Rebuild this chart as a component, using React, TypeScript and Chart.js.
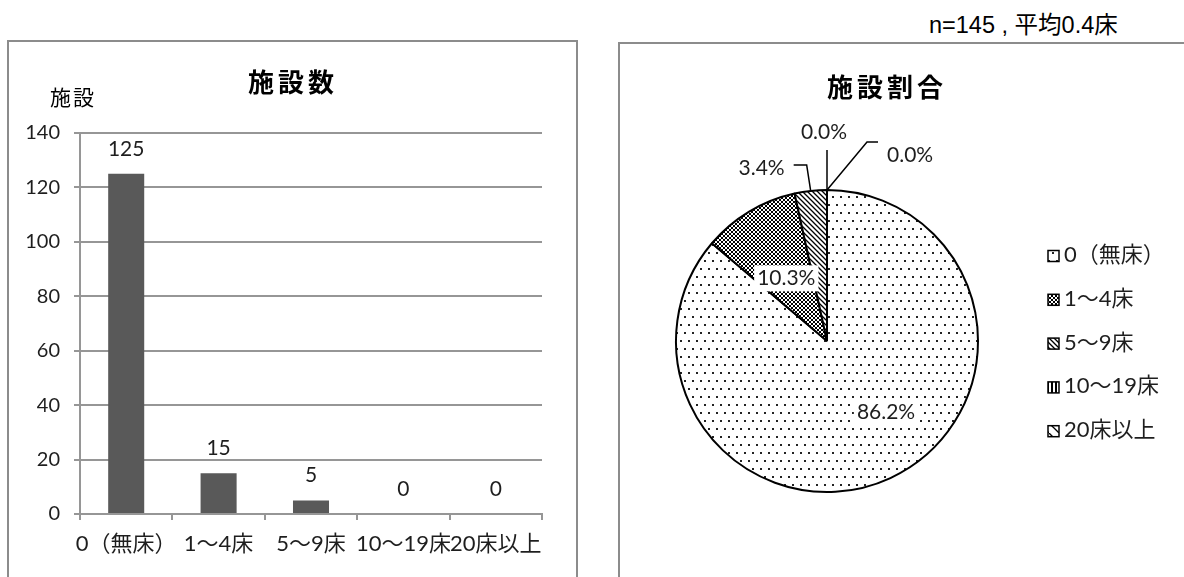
import React, { useEffect, useRef } from "react";
import { Chart, registerables } from "chart.js";

Chart.register(...registerables);

// ---------- data ----------
const categories: string[] = ["0（無床）", "1～4床", "5～9床", "10～19床", "20床以上"];
const facilityCounts: number[] = [125, 15, 5, 0, 0];
const yMin = 0;
const yMax = 140;
const yStep = 20;
const barTitle = "施設数";
const pieTitle = "施設割合";
const yAxisTitle = "施設";
const sampleNote = "n=145 , 平均0.4床";

const total = facilityCounts.reduce((a, b) => a + b, 0);
const shareLabels: string[] = facilityCounts.map((v) => ((v / total) * 100).toFixed(1) + "%");

// ---------- styles ----------
const LATIN = 'Lato, "Noto Sans CJK JP", sans-serif';
const CJK = '"Noto Sans CJK JP", sans-serif';
const GRID = "#969696";
const TEXT = "#1e1e1e";
const BAR = "#595959";

type PatternKind = "dots" | "checker" | "diag" | "vbars" | "diagWide";
const patternKinds: PatternKind[] = ["dots", "checker", "diag", "vbars", "diagWide"];

function makePattern(kind: PatternKind): CanvasPattern | string {
  const tile = document.createElement("canvas");
  const c = tile.getContext("2d");
  if (!c) return "#fff";
  const white = (w: number, h: number) => {
    tile.width = w;
    tile.height = h;
    c.fillStyle = "#fff";
    c.fillRect(0, 0, w, h);
  };
  switch (kind) {
    case "dots":
      white(8, 16);
      c.fillStyle = "#222";
      c.fillRect(1, 1, 2, 2);
      c.fillRect(5, 9, 2, 2);
      break;
    case "checker":
      white(4, 4);
      c.fillStyle = "#000";
      c.fillRect(0, 0, 2, 2);
      c.fillRect(2, 2, 2, 2);
      break;
    case "diag":
      white(5, 5);
      c.strokeStyle = "#000";
      c.lineWidth = 1.3;
      c.beginPath();
      c.moveTo(-1, -1);
      c.lineTo(6, 6);
      c.moveTo(-1, 4);
      c.lineTo(1, 6);
      c.moveTo(4, -1);
      c.lineTo(6, 1);
      c.stroke();
      break;
    case "vbars":
      white(4, 4);
      c.fillStyle = "#000";
      c.fillRect(0, 0, 2, 4);
      break;
    case "diagWide":
      white(10, 10);
      c.strokeStyle = "#000";
      c.lineWidth = 1.3;
      c.beginPath();
      c.moveTo(-1, -1);
      c.lineTo(11, 11);
      c.stroke();
      break;
  }
  return c.createPattern(tile, "repeat") || "#fff";
}

type LabelSpec =
  | { mode: "inside"; radius: number; dx: number; dy: number; boxed?: boolean }
  | { mode: "leader"; path: [number, number][]; tx: number; ty: number; align: CanvasTextAlign };

const pieLabelLayout: LabelSpec[] = [
  { mode: "inside", radius: 0.6, dx: 21, dy: -11, boxed: true },
  { mode: "inside", radius: 0.6, dx: 6, dy: 15, boxed: true },
  { mode: "leader", path: [[-4, -26], [-17, -26]], tx: -26, ty: -23, align: "right" },
  { mode: "leader", path: [[0, -40]], tx: -3, ty: -58, align: "center" },
  { mode: "leader", path: [[40, -48], [51, -48]], tx: 60, ty: -35, align: "left" },
];

export default function App() {
  const barRef = useRef<HTMLCanvasElement>(null);
  const pieRef = useRef<HTMLCanvasElement>(null);

  useEffect(() => {
    const patterns = patternKinds.map(makePattern);

    const barDecor = {
      id: "barDecor",
      afterDraw(chart: any) {
        const ctx: CanvasRenderingContext2D = chart.ctx;
        ctx.save();
        ctx.textAlign = "center";
        ctx.textBaseline = "middle";
        ctx.fillStyle = "#000";
        ctx.font = `bold 26px ${CJK}`;
        (ctx as any).letterSpacing = "4px";
        ctx.fillText(barTitle, 285, 41);
        ctx.font = `21px ${CJK}`;
        (ctx as any).letterSpacing = "2px";
        ctx.fillText(yAxisTitle, 65, 56);
        (ctx as any).letterSpacing = "0px";
        ctx.font = `21px ${LATIN}`;
        ctx.fillStyle = TEXT;
        const meta = chart.getDatasetMeta(0);
        meta.data.forEach((el: any, i: number) => {
          const p = el.getProps(["x", "y"], true);
          ctx.fillText(String(facilityCounts[i]), p.x, p.y - 25);
        });
        ctx.restore();
      },
    };

    const pieDecor = {
      id: "pieDecor",
      afterDraw(chart: any) {
        const ctx: CanvasRenderingContext2D = chart.ctx;
        ctx.save();
        ctx.textBaseline = "middle";
        // title
        ctx.textAlign = "center";
        ctx.fillStyle = "#000";
        ctx.font = `bold 26px ${CJK}`;
        (ctx as any).letterSpacing = "4px";
        ctx.fillText(pieTitle, 268, 44);
        (ctx as any).letterSpacing = "0px";

        // data labels
        ctx.font = `21px ${LATIN}`;
        const meta = chart.getDatasetMeta(0);
        meta.data.forEach((el: any, i: number) => {
          const spec = pieLabelLayout[i];
          const p = el.getProps(["x", "y", "startAngle", "endAngle", "outerRadius"], true);
          const mid = (p.startAngle + p.endAngle) / 2;
          const text = shareLabels[i];
          if (spec.mode === "inside") {
            const tx = p.x + Math.cos(mid) * p.outerRadius * spec.radius + spec.dx;
            const ty = p.y + Math.sin(mid) * p.outerRadius * spec.radius + spec.dy;
            if (spec.boxed) {
              const w = ctx.measureText(text).width;
              ctx.fillStyle = "#fff";
              ctx.fillRect(tx - w / 2 - 3, ty - 13, w + 6, 26);
            }
            ctx.fillStyle = TEXT;
            ctx.textAlign = "center";
            ctx.fillText(text, tx, ty);
          } else {
            const ax = p.x + Math.cos(mid) * p.outerRadius;
            const ay = p.y + Math.sin(mid) * p.outerRadius;
            ctx.strokeStyle = "#000";
            ctx.lineWidth = 1.5;
            ctx.beginPath();
            ctx.moveTo(ax, ay);
            spec.path.forEach(([dx, dy]) => ctx.lineTo(ax + dx, ay + dy));
            ctx.stroke();
            ctx.fillStyle = TEXT;
            ctx.textAlign = spec.align;
            ctx.fillText(text, ax + spec.tx, ay + spec.ty);
          }
        });

        // legend
        const lx = 429;
        const ly0 = 212;
        const gap = 43.8;
        const box = 11;
        ctx.font = `22px ${LATIN}`;
        categories.forEach((lab, i) => {
          const y = ly0 + i * gap;
          ctx.fillStyle = patterns[i] as any;
          ctx.fillRect(lx, y - box / 2 + 1, box, box);
          ctx.strokeStyle = "#000";
          ctx.lineWidth = 1.5;
          ctx.strokeRect(lx, y - box / 2 + 1, box, box);
          ctx.fillStyle = TEXT;
          ctx.textAlign = "left";
          ctx.fillText(lab, lx + 16, y);
        });
        ctx.restore();
      },
    };

    const bar = new Chart(barRef.current as HTMLCanvasElement, {
      type: "bar",
      data: {
        labels: categories,
        datasets: [
          {
            data: facilityCounts,
            backgroundColor: BAR,
            borderWidth: 0,
            barPercentage: 0.39,
            categoryPercentage: 1,
          },
        ],
      },
      options: {
        responsive: false,
        animation: false,
        events: [],
        layout: { padding: { top: 92, right: 35, bottom: 0, left: 0 } },
        plugins: {
          legend: { display: false },
          tooltip: { enabled: false },
          title: { display: false },
        },
        scales: {
          x: {
            grid: {
              display: true,
              drawOnChartArea: false,
              drawTicks: true,
              tickLength: 6,
              color: GRID,
              lineWidth: 2,
              offset: true,
            },
            border: { display: true, color: GRID, width: 2 },
            ticks: {
              autoSkip: false,
              maxRotation: 0,
              minRotation: 0,
              color: TEXT,
              font: { family: LATIN, size: 22 },
              padding: 11,
            },
            afterFit: (s: any) => {
              s.height = 63;
            },
          },
          y: {
            min: yMin,
            max: yMax,
            ticks: {
              stepSize: yStep,
              color: TEXT,
              font: { family: LATIN, size: 20 },
              padding: 14,
            },
            grid: { color: GRID, lineWidth: 2, tickLength: 6 },
            border: { display: true, color: GRID, width: 2 },
            afterFit: (s: any) => {
              s.width = 72;
            },
          },
        },
      } as any,
      plugins: [barDecor],
    });

    const pie = new Chart(pieRef.current as HTMLCanvasElement, {
      type: "pie",
      data: {
        labels: categories,
        datasets: [
          {
            data: facilityCounts,
            backgroundColor: patterns as any,
            borderColor: "#000",
            borderWidth: 2,
          },
        ],
      },
      options: {
        responsive: false,
        animation: false,
        events: [],
        layout: { padding: { left: 56, top: 146, right: 205, bottom: 84 } },
        plugins: {
          legend: { display: false },
          tooltip: { enabled: false },
          title: { display: false },
        },
      } as any,
      plugins: [pieDecor],
    });

    return () => {
      bar.destroy();
      pie.destroy();
    };
  }, []);

  return (
    <div
      style={{
        position: "absolute",
        left: 0,
        top: 0,
        width: 1184,
        height: 577,
        overflow: "hidden",
        background: "#fff",
      }}
    >
      <div
        style={{
          position: "absolute",
          left: 929,
          top: 12,
          lineHeight: "26px",
          fontSize: 23.5,
          fontFamily: '"Liberation Sans", Arial, "Noto Sans CJK JP", sans-serif',
          color: "#000",
          whiteSpace: "nowrap",
        }}
      >
        {sampleNote}
      </div>
      <div
        style={{
          position: "absolute",
          left: 7,
          top: 40,
          width: 571,
          height: 600,
          boxSizing: "border-box",
          border: "2px solid #8c8c8c",
        }}
      />
      <div
        style={{
          position: "absolute",
          left: 618,
          top: 42,
          width: 700,
          height: 600,
          boxSizing: "border-box",
          border: "2px solid #8c8c8c",
        }}
      />
      <canvas
        ref={barRef}
        width={569}
        height={536}
        style={{ position: "absolute", left: 8, top: 41, width: 569, height: 536 }}
      />
      <canvas
        ref={pieRef}
        width={565}
        height={534}
        style={{ position: "absolute", left: 619, top: 43, width: 565, height: 534 }}
      />
    </div>
  );
}
